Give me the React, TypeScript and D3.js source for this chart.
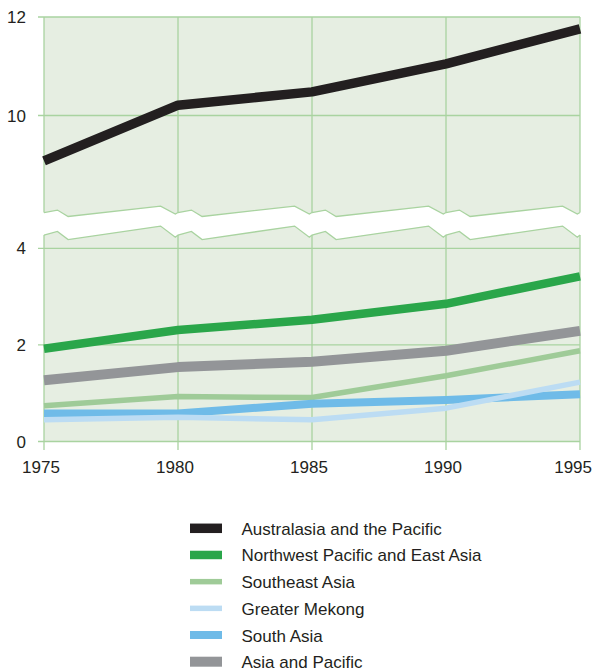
import React from "react";
import * as d3 from "d3";

const YEARS = [1975, 1980, 1985, 1990, 1995];
const AUSTRALASIA = [9.08, 10.21, 10.48, 11.05, 11.76];
const NW_PACIFIC = [1.92, 2.31, 2.52, 2.85, 3.42];
const SOUTHEAST_ASIA = [0.74, 0.93, 0.91, 1.36, 1.88];
const GREATER_MEKONG = [0.45, 0.5, 0.45, 0.69, 1.23];
const SOUTH_ASIA = [0.58, 0.58, 0.78, 0.86, 0.98];
const ASIA_PACIFIC = [1.27, 1.54, 1.65, 1.88, 2.29];

const SERIES_NAMES = [
  "Australasia and the Pacific",
  "Northwest Pacific and East Asia",
  "Southeast Asia",
  "Greater Mekong",
  "South Asia",
  "Asia and Pacific",
];
const TOP_TICKS = [10, 12];
const BOTTOM_TICKS = [0, 2, 4];

// axis-break zigzag, per 5-year interval (fraction of interval, value)
const BREAK_FRAC = [0, 0.1, 0.18, 0.87, 0.98];
const BREAK_TOP = [8.03, 8.08, 7.95, 8.16, 8.0];
const BREAK_BOTTOM = [4.275, 4.35, 4.18, 4.46, 4.23];

const COLORS = ["#231f20", "#2aa64a", "#9fcb98", "#bcdcf3", "#6fbbe8", "#939598"];
const WIDTHS = [9.5, 8.5, 5.5, 5.5, 8, 10];
const DRAW_ORDER = [2, 4, 3, 5, 1, 0];

const FONT = "'Liberation Sans', Arial, Helvetica, sans-serif";
const BG = "#e6eee2";
const GRID = "#a9d3a0";

export default function App() {
  const x = d3.scaleLinear().domain([1975, 1995]).range([44, 580]);
  const yTop = d3.scaleLinear().domain([8, 12]).range([214, 17]);
  const yBot = d3.scaleLinear().domain([0, 4]).range([441.5, 248.3]);

  const series = [AUSTRALASIA, NW_PACIFIC, SOUTHEAST_ASIA, GREATER_MEKONG, SOUTH_ASIA, ASIA_PACIFIC];
  const scaleFor = (i: number) => (i === 0 ? yTop : yBot);

  const edge = (vals: number[]) => {
    const pts: [number, number][] = [];
    for (let i = 0; i < YEARS.length - 1; i++) {
      BREAK_FRAC.forEach((f, j) => {
        pts.push([YEARS[i] + (YEARS[i + 1] - YEARS[i]) * f, vals[j]]);
      });
    }
    pts.push([YEARS[YEARS.length - 1], vals[0]]);
    return pts;
  };
  const topEdge = edge(BREAK_TOP).map(([a, b]) => [x(a), yTop(b)] as [number, number]);
  const botEdge = edge(BREAK_BOTTOM).map(([a, b]) => [x(a), yBot(b)] as [number, number]);

  const lineGen = d3.line<[number, number]>();
  const topPoly =
    `M${x(1975)},${yTop(12)}L${x(1995)},${yTop(12)}` +
    topEdge
      .slice()
      .reverse()
      .map((p) => `L${p[0]},${p[1]}`)
      .join("") +
    "Z";
  const botPoly =
    `M${x(1975)},${yBot(0)}L${x(1995)},${yBot(0)}` +
    botEdge
      .slice()
      .reverse()
      .map((p) => `L${p[0]},${p[1]}`)
      .join("") +
    "Z";

  const edgeAt = (pts: [number, number][], px: number) => {
    for (const p of pts) if (Math.abs(p[0] - px) < 0.01) return p[1];
    return pts[0][1];
  };

  const legendY = d3.scalePoint<number>().domain(d3.range(6)).range([528.3, 661.7]);

  return (
    <svg
      width={594}
      height={671}
      style={{ position: "absolute", left: 0, top: 0, background: "#fff" }}
      fontFamily={FONT}
    >
      <path d={topPoly} fill={BG} />
      <path d={botPoly} fill={BG} />

      {/* horizontal gridlines */}
      {TOP_TICKS.map((t) => (
        <line key={"ht" + t} x1={38} x2={x(1995)} y1={yTop(t)} y2={yTop(t)} stroke={GRID} strokeWidth={1.3} />
      ))}
      {BOTTOM_TICKS.map((t) => (
        <line key={"hb" + t} x1={38} x2={x(1995)} y1={yBot(t)} y2={yBot(t)} stroke={GRID} strokeWidth={1.3} />
      ))}
      {/* vertical gridlines */}
      {YEARS.map((yr) => (
        <g key={"v" + yr}>
          <line x1={x(yr)} x2={x(yr)} y1={yTop(12)} y2={edgeAt(topEdge, x(yr))} stroke={GRID} strokeWidth={1.3} />
          <line x1={x(yr)} x2={x(yr)} y1={edgeAt(botEdge, x(yr))} y2={yBot(0) + 8.5} stroke={GRID} strokeWidth={1.3} />
        </g>
      ))}
      {/* break edges */}
      <path d={lineGen(topEdge) || ""} fill="none" stroke={GRID} strokeWidth={1.3} />
      <path d={lineGen(botEdge) || ""} fill="none" stroke={GRID} strokeWidth={1.3} />

      {/* axis labels */}
      {TOP_TICKS.map((t) => (
        <text key={"lt" + t} x={26} y={yTop(t)} dy="0.36em" textAnchor="end" fontSize={17} fill="#231f20">
          {t}
        </text>
      ))}
      {BOTTOM_TICKS.map((t) => (
        <text key={"lb" + t} x={26} y={yBot(t)} dy="0.36em" textAnchor="end" fontSize={17} fill="#231f20">
          {t}
        </text>
      ))}
      {YEARS.map((yr, i) => (
        <text
          key={"lx" + yr}
          x={i === YEARS.length - 1 ? 592 : x(yr) - 3}
          y={473}
          textAnchor={i === YEARS.length - 1 ? "end" : "middle"}
          fontSize={17}
          fill="#231f20"
        >
          {yr}
        </text>
      ))}

      {/* series lines */}
      {DRAW_ORDER.map((si) => {
        const ys = scaleFor(si);
        const pts = series[si].map((v, k) => [x(YEARS[k]), ys(v)] as [number, number]);
        return (
          <path
            key={"s" + si}
            d={lineGen(pts) || ""}
            fill="none"
            stroke={COLORS[si]}
            strokeWidth={WIDTHS[si]}
            strokeLinejoin="round"
          />
        );
      })}

      {/* legend */}
      {SERIES_NAMES.map((name, i) => (
        <g key={"lg" + i}>
          <line x1={190} x2={222} y1={legendY(i)} y2={legendY(i)} stroke={COLORS[i]} strokeWidth={WIDTHS[i]} />
          <text x={241.5} y={(legendY(i) as number) + 6.5} fontSize={17} fill="#231f20">
            {name}
          </text>
        </g>
      ))}
    </svg>
  );
}
